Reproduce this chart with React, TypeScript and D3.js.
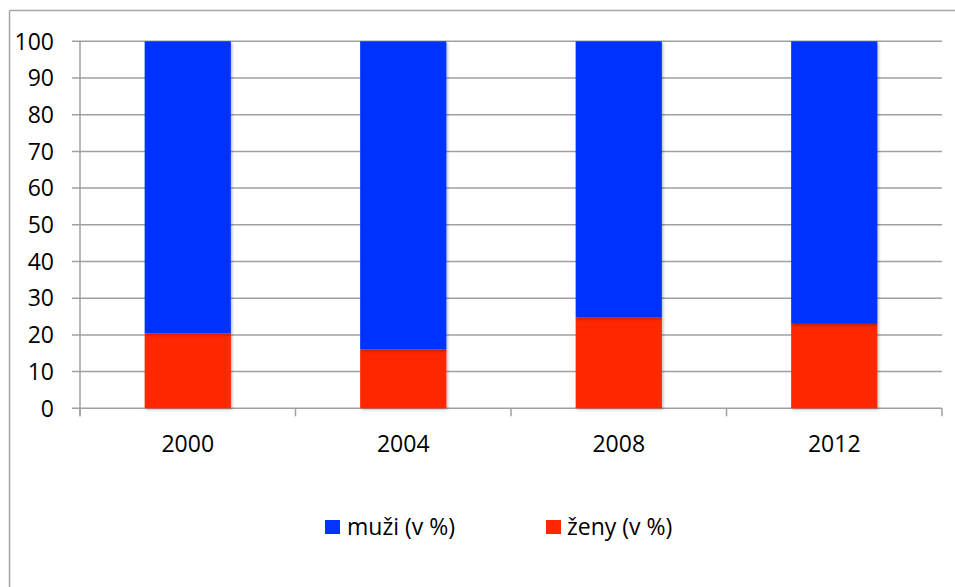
import React from "react";
import * as d3 from "d3";

const categories = ["2000", "2004", "2008", "2012"];
const zeny = [20.4, 16.0, 24.7, 23.0];
const muzi = zeny.map((v) => 100 - v);
const yTicks = [0, 10, 20, 30, 40, 50, 60, 70, 80, 90, 100];
const seriesNames = ["muži (v %)", "ženy (v %)"];
const seriesColors = ["#0433ff", "#ff2600"];

const W = 955;
const H = 587;
const left = 80;
const right = 942;
const top = 41.3;
const bottom = 408.3;
const FONT = "'Open Sans', Lato, sans-serif";
const FS = 23;

export default function App() {
  const band = d3.scaleBand<string>().domain(categories).range([left, right]);
  const y = d3.scaleLinear().domain([0, 100]).range([bottom, top]);
  const stackData = categories.map((c, i) => ({ cat: c, zeny: zeny[i], muzi: muzi[i] }));
  const stack = d3.stack<any>().keys(["zeny", "muzi"])(stackData);
  const colorFor: Record<string, string> = { zeny: seriesColors[1], muzi: seriesColors[0] };
  const bw = band.bandwidth() / 2.5;
  const xTickPos = [...categories.map((c) => band(c) as number), right];

  return (
    <svg width={W} height={H} style={{ position: "absolute", left: 0, top: 0, background: "#fff" }} fontFamily={FONT}>
      <defs>
        <filter id="sh" x="-10%" y="-10%" width="130%" height="130%">
          <feDropShadow dx="1.5" dy="1.5" stdDeviation="1.2" floodColor="#000" floodOpacity="0.25" />
        </filter>
      </defs>
      <rect x={0} y={0} width={W} height={H} fill="#fff" />
      {/* outer frame */}
      <line x1={9.5} x2={9.5} y1={10.5} y2={H} stroke="#a6a6a6" strokeWidth={1.5} />
      <line x1={9.5} x2={W} y1={10.5} y2={10.5} stroke="#a6a6a6" strokeWidth={1.5} />
      {/* gridlines */}
      {yTicks.map((t) => (
        <g key={t}>
          <line x1={72} x2={right} y1={y(t)} y2={y(t)} stroke="#a0a0a0" strokeWidth={1.5} />
          <text x={54} y={y(t)} dy="0.36em" textAnchor="end" fontSize={FS} fill="#000">
            {t}
          </text>
        </g>
      ))}
      {/* y axis */}
      <line x1={left} x2={left} y1={top} y2={bottom + 8} stroke="#a0a0a0" strokeWidth={1.5} />
      {/* x ticks */}
      {xTickPos.map((p, i) => (
        <line key={i} x1={p} x2={p} y1={bottom} y2={bottom + 8} stroke="#a0a0a0" strokeWidth={1.5} />
      ))}
      {/* bars */}
      {stack.map((s) => (
        <g key={s.key} fill={colorFor[s.key]}>
          {s.map((d, i) => {
            const cx = (band(categories[i]) as number) + band.bandwidth() / 2;
            return (
              <rect
                key={i}
                x={cx - bw / 2}
                y={y(d[1])}
                width={bw}
                height={y(d[0]) - y(d[1])}
                filter="url(#sh)"
              />
            );
          })}
        </g>
      ))}
      {/* x labels */}
      {categories.map((c) => (
        <text key={c} x={(band(c) as number) + band.bandwidth() / 2} y={452} textAnchor="middle" fontSize={FS} fill="#000">
          {c}
        </text>
      ))}
      {/* legend */}
      <rect x={325} y={520} width={15} height={14} fill={seriesColors[0]} />
      <text x={347} y={535} fontSize={FS} fill="#000">{seriesNames[0]}</text>
      <rect x={546} y={520} width={15} height={14} fill={seriesColors[1]} />
      <text x={567} y={535} fontSize={FS} fill="#000">{seriesNames[1]}</text>
    </svg>
  );
}
